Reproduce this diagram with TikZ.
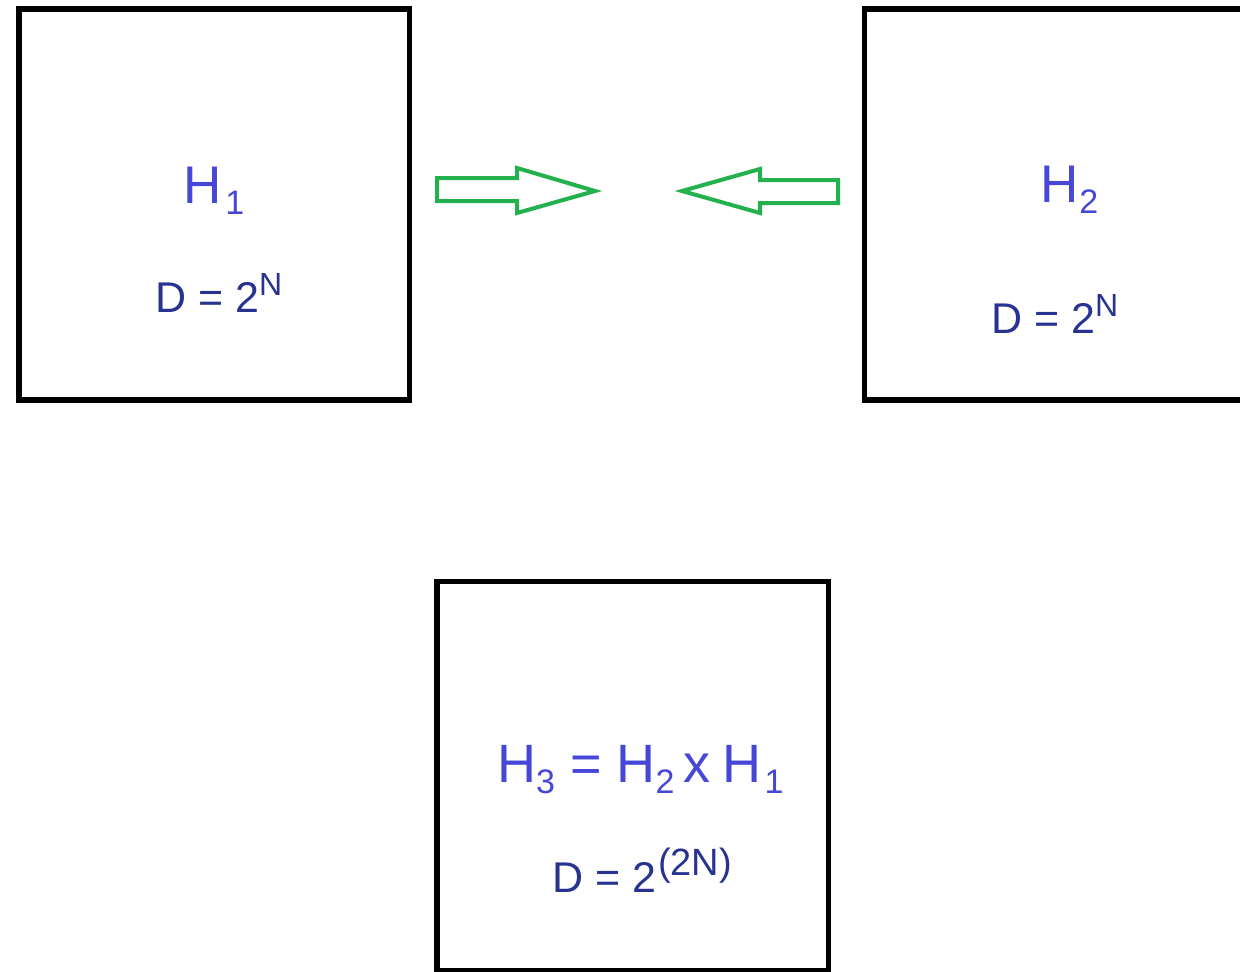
\documentclass[tikz,border=0pt]{standalone}
\usepackage{fontspec}
\setmainfont{Liberation Sans}
\definecolor{hblue}{RGB}{70,70,215}
\definecolor{dblue}{RGB}{40,50,145}
\definecolor{agreen}{RGB}{34,177,76}
% #1 gap, #2 base letter, #3 subscript
\newcommand{\hsub}[3]{#2\hspace{#1}{\fontsize{34}{34}\selectfont\raisebox{-11pt}{#3}}}
\newcommand{\dsup}[2]{\raisebox{17pt}{\fontsize{#1}{#1}\selectfont #2}}
\tikzset{
  box/.style={draw=black, line width=5.5pt, minimum width=390.5pt, minimum height=391pt, inner sep=0pt, outer sep=0pt},
  htext/.style={text=hblue, font=\fontsize{53}{53}\selectfont, inner sep=0pt},
  dtext/.style={text=dblue, font=\fontsize{43}{43}\selectfont, inner sep=0pt},
  fatarrow/.style={draw=agreen, line width=4pt, line join=miter}
}
\begin{document}
\begin{tikzpicture}[x=1pt,y=-1pt]
\useasboundingbox (0,0) rectangle (1240,972);
\clip (0,0) rectangle (1240,972);
\node[box, anchor=north west] (b1) at (19,9) {};
\node[box, anchor=north west] (b2) at (864.5,9) {};
\node[box, anchor=north west, minimum width=391.5pt, minimum height=389pt] (b3) at (437,581.5) {};
% texts
\node[htext, anchor=base west] (h1) at (183,203) {\hsub{4pt}{H}{1}};
\node[dtext, anchor=base west] (d1) at (155,312) {D = 2\dsup{32}{N}};
\node[htext, anchor=base west] (h2) at (1040,202) {\hsub{1pt}{H}{2}};
\node[dtext, anchor=base west] (d2) at (991,333) {D = 2\dsup{32}{N}};
\node[htext, anchor=base west, font=\fontsize{54}{54}\selectfont] (h3) at (497,782) {\hsub{0pt}{H}{3} = \hsub{0pt}{H}{2}\hspace{9pt}x\hspace{12pt}\hsub{3pt}{H}{1}};
\node[dtext, anchor=base west] (d3) at (552,892) {D = 2\hspace{2pt}\dsup{38}{(2N)}};
% arrows
\draw[fatarrow] (437,178) -- (517,178) -- (517,168) -- (595,191) -- (517,213) -- (517,201) -- (437,201) -- cycle;
\draw[fatarrow] (838,180) -- (760,180) -- (760,169) -- (682,191) -- (760,213) -- (760,203) -- (838,203) -- cycle;
\end{tikzpicture}
\end{document}
